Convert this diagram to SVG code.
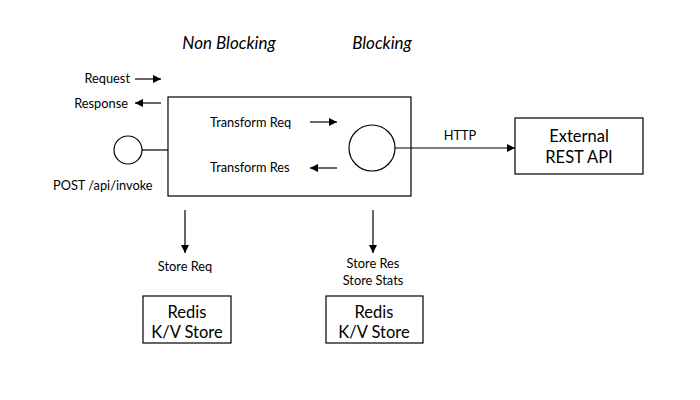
<svg xmlns="http://www.w3.org/2000/svg" width="700" height="400" viewBox="0 0 700 400">
<defs>
<marker id="ah" viewBox="0 0 10 10" refX="10" refY="5" markerWidth="11" markerHeight="8" markerUnits="userSpaceOnUse" orient="auto">
<path d="M0,0 L10,5 L0,10 z" fill="#000"/>
</marker>
<style>
.t{font-family:Lato,"Open Sans",sans-serif;fill:#000}
.s{font-size:12.8px}
.m{font-size:16.5px}
.h{font-size:17px;font-style:italic}
.b{fill:#fff;stroke:#000;stroke-width:1.2}
.c{stroke:#000;stroke-width:1.2;fill:none}
.a{marker-end:url(#ah)}
</style>
</defs>
<rect width="700" height="400" fill="#fff"/>
<g id="headings">
<text class="t h" x="229" y="49" text-anchor="middle">Non Blocking</text>
<text class="t h" x="382" y="49" text-anchor="middle">Blocking</text>
</g>
<g id="legend">
<text class="t s" x="130" y="83" text-anchor="end">Request</text>
<text class="t s" x="128" y="108" text-anchor="end">Response</text>
</g>
<g id="main">
<rect class="b" x="168" y="97" width="243" height="99"/>
<text class="t s" x="210" y="127">Transform Req</text>
<text class="t s" x="210" y="172">Transform Res</text>
</g>
<g id="client">
<circle class="b" cx="128" cy="150" r="14"/>
<text class="t s" x="53" y="190">POST /api/invoke</text>
</g>
<g id="worker">
<circle class="b" cx="372" cy="148" r="23"/>
</g>
<g id="external">
<rect class="b" x="515" y="118" width="128" height="56"/>
<text class="t m" x="579" y="142" text-anchor="middle">External</text>
<text class="t m" x="579" y="163" text-anchor="middle">REST API</text>
</g>
<g id="redis1">
<rect class="b" x="143" y="296" width="88" height="47"/>
<text class="t m" x="187" y="318" text-anchor="middle">Redis</text>
<text class="t m" x="187" y="338" text-anchor="middle">K/V Store</text>
</g>
<g id="redis2">
<rect class="b" x="326" y="296" width="97" height="47"/>
<text class="t m" x="374" y="318" text-anchor="middle">Redis</text>
<text class="t m" x="374" y="338" text-anchor="middle">K/V Store</text>
</g>
<g id="connectors">
<line class="c a" x1="135" y1="79" x2="161" y2="79"/>
<line class="c a" x1="161" y1="103" x2="135" y2="103"/>
<line class="c a" x1="310" y1="122" x2="337" y2="122"/>
<line class="c a" x1="337" y1="168" x2="310" y2="168"/>
<line class="c" x1="142" y1="150" x2="168" y2="150"/>
<line class="c a" x1="395" y1="148" x2="515" y2="148"/>
<text class="t s" x="460" y="140" text-anchor="middle">HTTP</text>
<line class="c a" x1="185" y1="210" x2="185" y2="253"/>
<line class="c a" x1="373" y1="210" x2="373" y2="253"/>
<text class="t s" x="185" y="271" text-anchor="middle">Store Req</text>
<text class="t s" x="373" y="268" text-anchor="middle">Store Res</text>
<text class="t s" x="373" y="285" text-anchor="middle">Store Stats</text>
</g>
</svg>
